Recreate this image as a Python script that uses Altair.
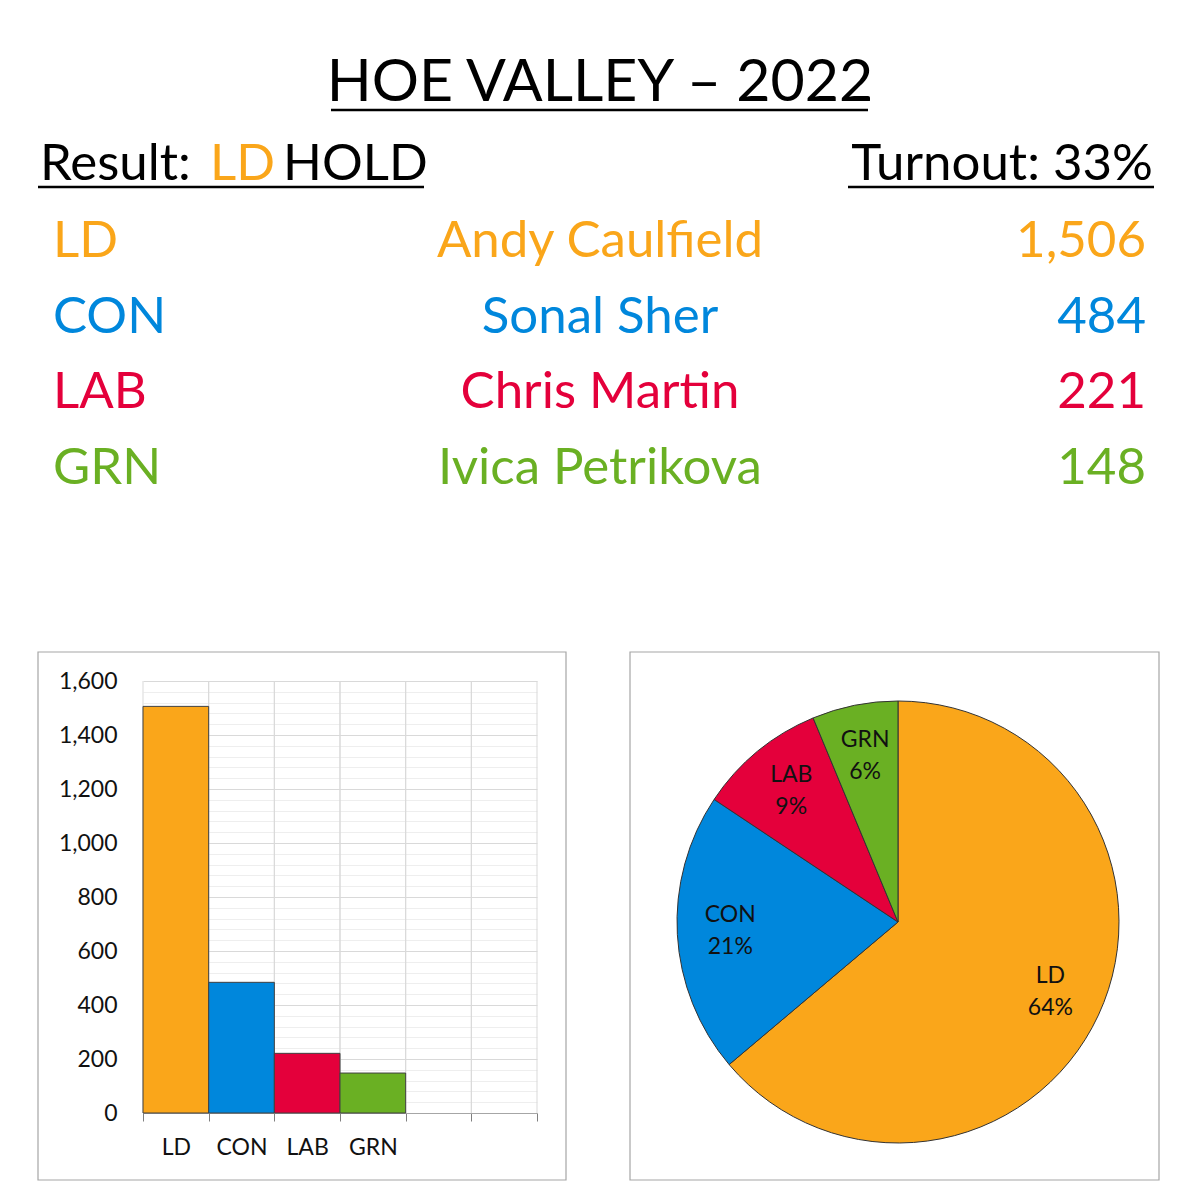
import altair as alt
import pandas as pd

# ---- data ----
parties = ["LD", "CON", "LAB", "GRN"]
candidates = ["Andy Caulfield", "Sonal Sher", "Chris Martin", "Ivica Petrikova"]
votes = [1506, 484, 221, 148]
colors = ["#FAA61A", "#0087DC", "#E4003B", "#6AB023"]
bar_slots = ["LD", "CON", "LAB", "GRN", " ", "  "]
y_grid = list(range(0, 1601, 40))      # minor every 40, major (labelled) every 200
title_text = "HOE VALLEY – 2022"
result_parts = ["Result:", "LD", "HOLD"]
turnout_text = "Turnout: 33%"

FONT = "Lato"
W = H = 1184

total = sum(votes)
df = pd.DataFrame({
    "party": parties,
    "candidate": candidates,
    "votes": votes,
    "idx": list(range(len(parties))),
})
df["label"] = [f"{p}\n{round(v / total * 100)}%" for p, v in zip(parties, votes)]
slots_df = pd.DataFrame({"party": bar_slots})

color_enc = alt.Color("party:N", scale=alt.Scale(domain=parties, range=colors), legend=None)


def one(**kw):
    return pd.DataFrame([kw])


# ---- header ----
title = alt.Chart(one(t=title_text)).mark_text(
    font=FONT, fontSize=59, align="center", baseline="alphabetic", color="#000"
).encode(x=alt.value(592), y=alt.value(93), text="t:N")

underline_df = pd.DataFrame({"a": [323, 30, 840], "b": [860, 416, 1146], "y": [102, 179, 179]})
underlines = alt.Chart(underline_df).mark_rule(color="#000", strokeWidth=2.5).encode(
    x=alt.X("a:Q", scale=None), x2="b:Q", y=alt.Y("y:Q", scale=None)
)

res_df = pd.DataFrame({"t": result_parts, "x": [32, 202, 275], "c": ["#000", colors[0], "#000"]})
result = alt.Chart(res_df).mark_text(
    font=FONT, fontSize=51, align="left", baseline="alphabetic"
).encode(x=alt.X("x:Q", scale=None), y=alt.value(172), text="t:N",
         color=alt.Color("c:N", scale=None))

turnout = alt.Chart(one(t=turnout_text)).mark_text(
    font=FONT, fontSize=51, align="right", baseline="alphabetic", color="#000"
).encode(x=alt.value(1145), y=alt.value(172), text="t:N")

row_y = alt.Y("party:N", sort=parties, axis=None,
              scale=alt.Scale(type="point", range=[249, 476], padding=0))
table_base = alt.Chart(df)
t_party = table_base.mark_text(font=FONT, fontSize=51, baseline="alphabetic", align="left").encode(
    x=alt.value(45), y=row_y, text="party:N", color=color_enc)
t_name = table_base.mark_text(font=FONT, fontSize=51, baseline="alphabetic", align="center").encode(
    x=alt.value(592), y=row_y, text="candidate:N", color=color_enc)
t_votes = table_base.mark_text(font=FONT, fontSize=51, baseline="alphabetic", align="right").encode(
    x=alt.value(1138), y=row_y, text=alt.Text("votes:Q", format=","), color=color_enc)

# ---- bar chart ----
x_scale = alt.Scale(domain=bar_slots, range=[135, 529], paddingInner=0, paddingOuter=0)
x_axis = alt.Axis(
    title=None, orient="bottom", offset=-79, tickBand="extent", labelAngle=0,
    grid=False, domainColor="#a6a6a6", tickColor="#7f7f7f",
    tickSize=8, labelPadding=15, labelFont=FONT, labelFontSize=23, labelColor="#111",
)
y_scale = alt.Scale(domain=[0, 1600], range=[1105, 673], nice=False, zero=True)
y_axis = alt.Axis(
    title=None, orient="left", offset=-135, values=y_grid,
    labelExpr="datum.value % 200 === 0 ? format(datum.value, ',') : ''",
    labelOverlap=False, grid=True,
    gridColor={"condition": {"test": "datum.value % 200 === 0", "value": "#d9d9d9"},
               "value": "#eeeeee"},
    ticks=False, tickSize=0, domain=False, labelPadding=26,
    labelFont=FONT, labelFontSize=23, labelColor="#111",
)

vgrid_left = alt.Chart(slots_df).mark_rule(color="#d9d9d9", strokeWidth=1).encode(
    x=alt.X("party:N", sort=bar_slots, scale=x_scale, axis=x_axis, bandPosition=0),
    y=alt.Y(datum=0, type="quantitative", scale=y_scale, axis=y_axis),
    y2=alt.Y2(datum=1600),
)
vgrid_right = alt.Chart(slots_df).mark_rule(color="#d9d9d9", strokeWidth=1).encode(
    x=alt.X("party:N", sort=bar_slots, scale=x_scale, axis=x_axis, bandPosition=1),
    y=alt.Y(datum=0, type="quantitative", scale=y_scale, axis=y_axis),
    y2=alt.Y2(datum=1600),
)
bars = alt.Chart(df).mark_bar(stroke="#404040", strokeWidth=1).encode(
    x=alt.X("party:N", sort=bar_slots, scale=x_scale, axis=x_axis),
    y=alt.Y("votes:Q", scale=y_scale, axis=y_axis),
    color=color_enc,
)
bar_panel = alt.layer(vgrid_left, vgrid_right, bars)

# ---- pie chart ----
theta = alt.Theta("votes:Q", stack=True)
pie = alt.Chart(df).mark_arc(radius=221, stroke="#333", strokeWidth=1).encode(
    theta=theta, order=alt.Order("idx:Q"), color=color_enc,
    x=alt.value(890), y=alt.value(914),
)
pie_text = alt.Chart(df).mark_text(
    radius=168, dy=-17, font=FONT, fontSize=23, lineBreak="\n", lineHeight=32,
    align="center", baseline="middle", color="#111",
).encode(theta=theta, order=alt.Order("idx:Q"), text="label:N",
         x=alt.value(890), y=alt.value(914))

# ---- panel frames ----
box_df = pd.DataFrame({"x": [30, 622], "x2": [558, 1151], "y": [644, 644], "y2": [1172, 1172]})
boxes = alt.Chart(box_df).mark_rect(fillOpacity=0, stroke="#a6a6a6", strokeWidth=1.2).encode(
    x=alt.X("x:Q", scale=None), x2="x2:Q", y=alt.Y("y:Q", scale=None), y2="y2:Q"
)

chart = alt.layer(
    boxes, title, underlines, result, turnout, t_party, t_name, t_votes,
    bar_panel, pie, pie_text,
).resolve_scale(x="independent", y="independent").properties(
    width=W, height=H, padding=0, background="white",
    autosize=alt.AutoSizeParams(type="none"),
).configure_view(stroke="transparent", strokeWidth=0)

chart.save("out.html", embed_options={"renderer": "svg", "actions": False})
